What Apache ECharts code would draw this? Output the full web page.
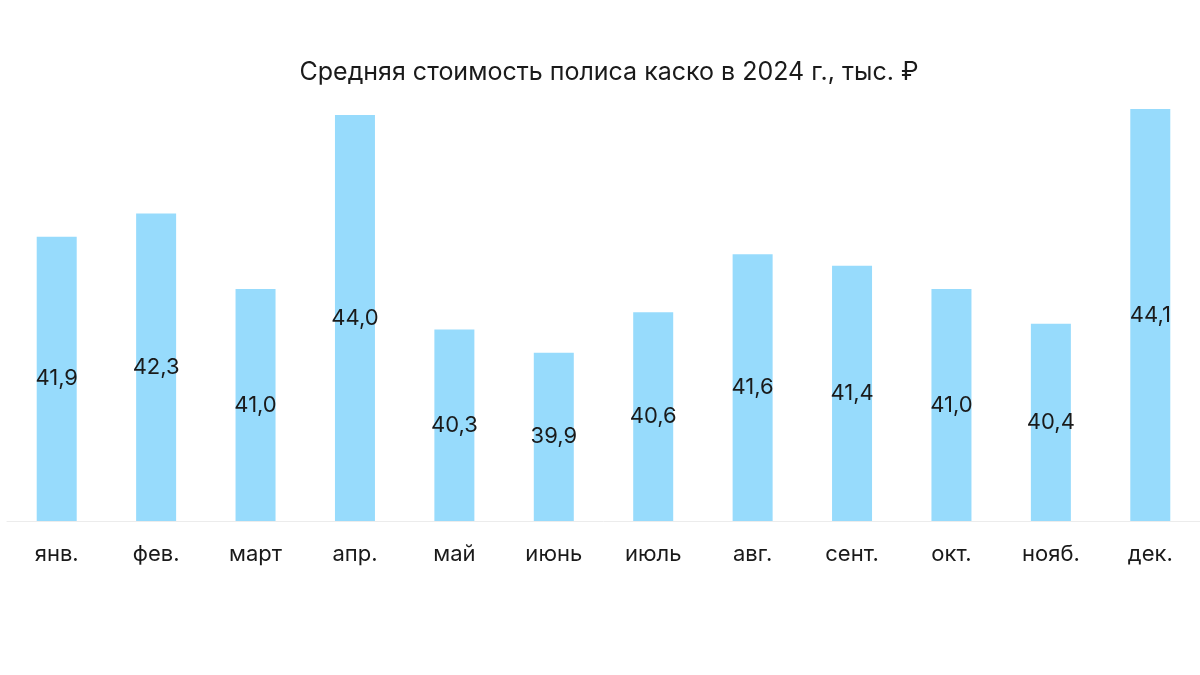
<!DOCTYPE html>
<html>
<head>
<meta charset="utf-8">
<script src="https://cdn.jsdelivr.net/npm/echarts@6/dist/echarts.min.js"></script>
<style>
html,body{margin:0;padding:0;background:#fff;}
#c{width:1200px;height:675px;}
</style>
</head>
<body>
<div id="c"></div>
<script>
const titleText = 'Средняя стоимость полиса каско в 2024 г., тыс. ₽';
const months = ['янв.', 'фев.', 'март', 'апр.', 'май', 'июнь', 'июль', 'авг.', 'сент.', 'окт.', 'нояб.', 'дек.'];
const avgCost = [41.9, 42.3, 41.0, 44.0, 40.3, 39.9, 40.6, 41.6, 41.4, 41.0, 40.4, 44.1];

const FONT = 'Inter, "Noto Sans", sans-serif';
const chart = echarts.init(document.getElementById('c'));
chart.setOption({
  backgroundColor: '#ffffff',
  animation: false,
  textStyle: { fontFamily: FONT },
  title: {
    text: titleText,
    left: 604,
    textAlign: 'center',
    top: 55,
    textStyle: { fontSize: 25, fontWeight: 'normal', color: '#1a1a1a', fontFamily: FONT }
  },
  grid: { left: 7, width: 1195, top: 103.3, height: 417.7 },
  xAxis: {
    type: 'category',
    data: months,
    axisLine: { show: true, lineStyle: { color: '#ececec', width: 1 } },
    axisTick: { show: false },
    axisLabel: { fontSize: 22, color: '#1a1a1a', margin: 22, fontFamily: FONT }
  },
  yAxis: {
    type: 'value',
    min: 37,
    max: 44.2,
    show: false,
    splitLine: { show: false }
  },
  series: [{
    type: 'bar',
    data: avgCost,
    barWidth: 40,
    itemStyle: { color: '#97dbfc' },
    label: {
      show: true,
      position: 'inside',
      fontSize: 22,
      color: '#1a1a1a',
      fontFamily: FONT,
      formatter: p => p.value.toFixed(1).replace('.', ',')
    }
  }]
});
</script>
</body>
</html>
